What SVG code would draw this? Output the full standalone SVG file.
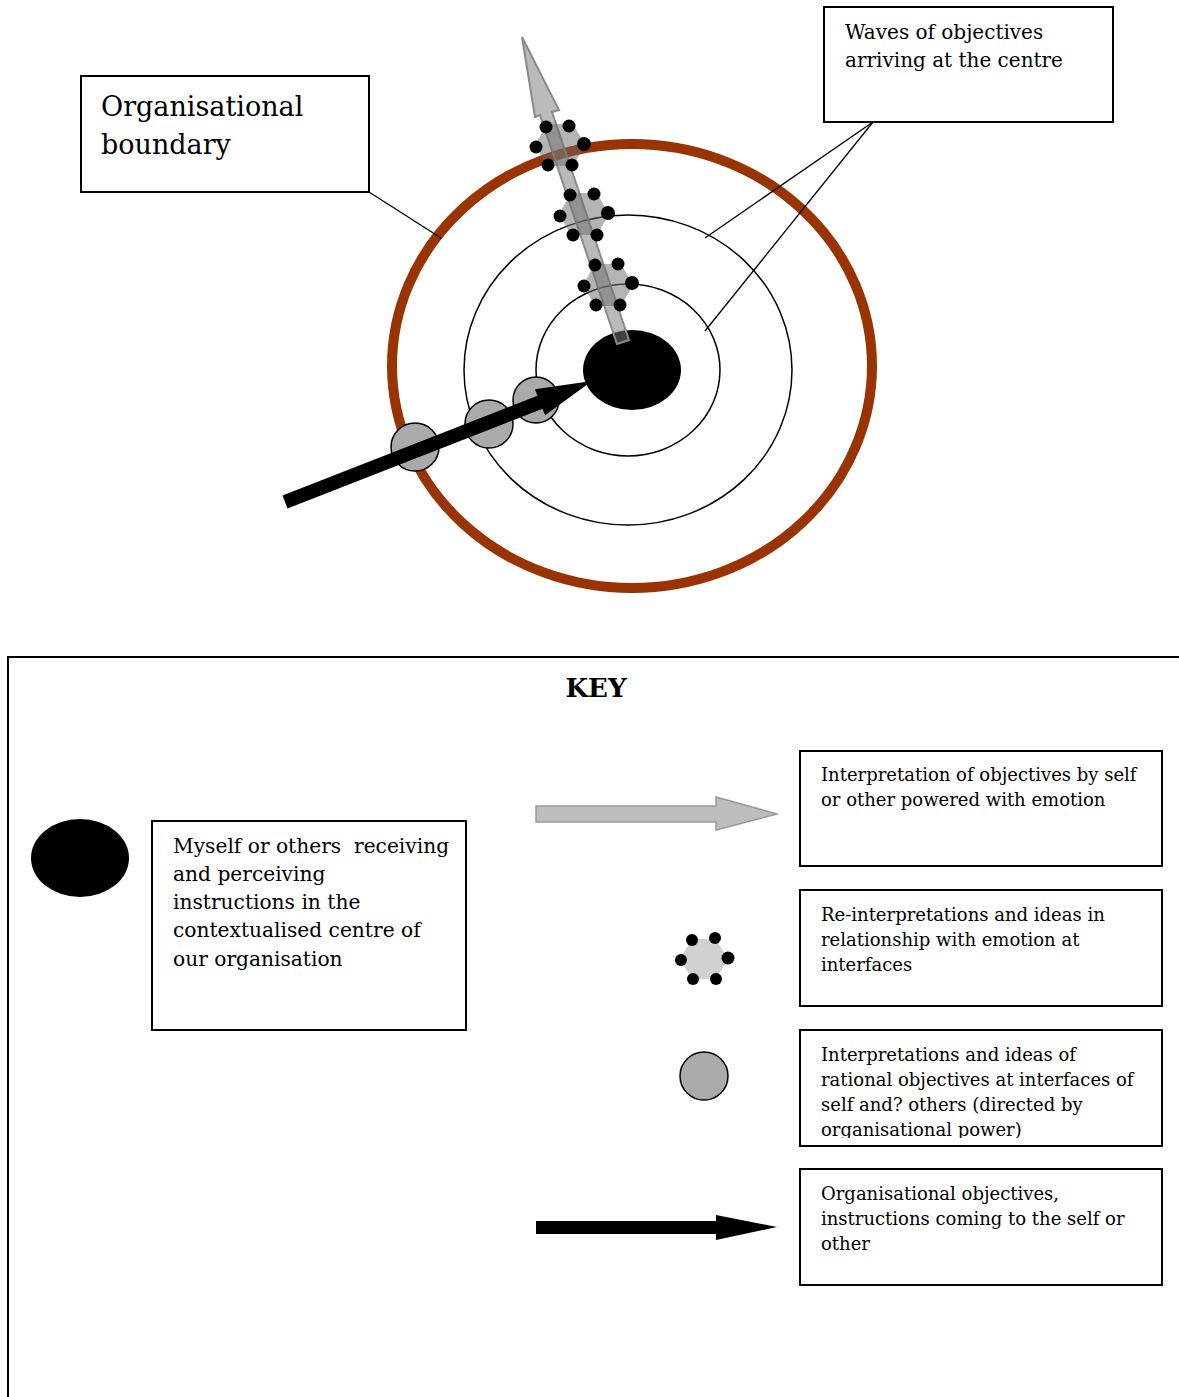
<svg xmlns="http://www.w3.org/2000/svg" width="1179" height="1397" viewBox="0 0 1179 1397">
<style>
.box{fill:#fff;stroke:#000;stroke-width:2}
.t{font-family:"DejaVu Serif","Liberation Serif",serif;fill:#000}
.lead{stroke:#000;stroke-width:1.3;fill:none}
.ring{fill:none;stroke:#000;stroke-width:1.5}
.gc{fill:#aaaaaa;stroke:#000;stroke-width:1.5}
.dot{fill:#000}
.hex{fill:#6a6a6a;opacity:0.5}
</style>
<defs>
<clipPath id="c3"><rect x="801" y="1031" width="360" height="107"/></clipPath>
</defs>
<rect width="1179" height="1397" fill="#fff"/>

<g id="diagram">
<g id="boundary"><ellipse cx="632" cy="366" rx="240" ry="222" fill="none" stroke="#993300" stroke-width="10"/></g>
<g id="ring2"><ellipse class="ring" cx="628" cy="370" rx="164" ry="155"/></g>
<g id="ring1"><ellipse class="ring" cx="628" cy="370" rx="92" ry="86"/></g>
<g id="centre"><ellipse cx="632" cy="370" rx="49" ry="40" fill="#000"/></g>
</g>

<g id="connectors">
<line class="lead" x1="369" y1="192" x2="441" y2="238"/>
<line class="lead" x1="873" y1="122" x2="705" y2="238"/>
<line class="lead" x1="873" y1="122" x2="705" y2="331"/>
</g>

<g id="rational-circles">
<circle class="gc" cx="415" cy="447" r="24"/>
<circle class="gc" cx="489" cy="424" r="24"/>
<circle class="gc" cx="536" cy="400" r="23"/>
</g>

<g id="black-arrow">
<polygon fill="#000" points="282.5,495.5 537.5,395.8 534.9,389.3 592,381 545.1,415.3 542.5,408.8 287.5,508.5"/>
</g>

<g id="grey-arrow">
<polygon fill="#7b7b7b" fill-opacity="0.52" stroke="#8a8a8a" stroke-width="2" points="522,37 559,110 552,112 629,340 617,344 540,115 535,117"/>
</g>

<g id="hex-clusters">
<g id="hex1">
<polygon class="hex" points="585,145 573,166 547,166 535,145 547,124 573,124"/>
<circle class="dot" cx="546" cy="127" r="6.5"/><circle class="dot" cx="569" cy="126" r="6.5"/>
<circle class="dot" cx="536" cy="147" r="6.5"/><circle class="dot" cx="584" cy="144" r="7"/>
<circle class="dot" cx="548" cy="165" r="6.5"/><circle class="dot" cx="572" cy="165" r="6.5"/>
</g>
<g id="hex2">
<polygon class="hex" points="609,214 597,235 571,235 559,214 571,193 597,193"/>
<circle class="dot" cx="570" cy="195" r="6.5"/><circle class="dot" cx="594" cy="194" r="6.5"/>
<circle class="dot" cx="560" cy="216" r="6.5"/><circle class="dot" cx="608" cy="213" r="7"/>
<circle class="dot" cx="573" cy="235" r="6.5"/><circle class="dot" cx="597" cy="235" r="6.5"/>
</g>
<g id="hex3">
<polygon class="hex" points="633,285 621,306 595,306 583,285 595,264 621,264"/>
<circle class="dot" cx="595" cy="265" r="6.5"/><circle class="dot" cx="618" cy="264" r="6.5"/>
<circle class="dot" cx="584" cy="286" r="6.5"/><circle class="dot" cx="632" cy="283" r="7"/>
<circle class="dot" cx="596" cy="305" r="6.5"/><circle class="dot" cx="620" cy="305" r="6.5"/>
</g>
</g>

<g id="org-boundary-label">
<rect class="box" x="81" y="76" width="288" height="116"/>
<text class="t" font-size="27" x="101" y="116">Organisational</text>
<text class="t" font-size="27" x="101" y="154">boundary</text>
</g>

<g id="waves-label">
<rect class="box" x="824" y="7" width="289" height="115"/>
<text class="t" font-size="20" x="845" y="39">Waves of objectives</text>
<text class="t" font-size="20" x="845" y="67">arriving at the centre</text>
</g>

<g id="key">
<rect x="8" y="657" width="1190" height="760" fill="none" stroke="#000" stroke-width="2"/>
<text class="t" font-size="26" font-weight="bold" x="596" y="697" text-anchor="middle">KEY</text>

<g id="key-centre">
<ellipse cx="80" cy="858" rx="49" ry="39" fill="#000"/>
<rect class="box" x="152" y="821" width="314" height="209"/>
<text class="t" font-size="20.2" style="white-space:pre"><tspan x="173" y="853">Myself or others  receiving</tspan><tspan x="173" y="881">and perceiving</tspan><tspan x="173" y="909">instructions in the</tspan><tspan x="173" y="937">contextualised centre of</tspan><tspan x="173" y="966">our organisation</tspan></text>
</g>

<g id="key-grey-arrow">
<polygon fill="#bdbdbd" stroke="#999" stroke-width="1.5" points="536,806 716,806 716,797 777,814 716,830 716,822 536,822"/>
<rect class="box" x="800" y="751" width="362" height="115"/>
<text class="t" font-size="18"><tspan x="821" y="781">Interpretation of objectives by self</tspan><tspan x="821" y="806">or other powered with emotion</tspan></text>
</g>

<g id="key-hex">
<polygon fill="#d0d0d0" points="728,959 716,979 692,979 680,959 692,939 716,939"/>
<circle class="dot" cx="692" cy="940" r="6"/><circle class="dot" cx="715" cy="938" r="6"/>
<circle class="dot" cx="681" cy="960" r="6"/><circle class="dot" cx="728" cy="958" r="6.5"/>
<circle class="dot" cx="693" cy="979" r="6"/><circle class="dot" cx="716" cy="979" r="6"/>
<rect class="box" x="800" y="890" width="362" height="116"/>
<text class="t" font-size="18"><tspan x="821" y="921">Re-interpretations and ideas in</tspan><tspan x="821" y="946">relationship with emotion at</tspan><tspan x="821" y="971">interfaces</tspan></text>
</g>

<g id="key-circle">
<circle class="gc" cx="704" cy="1076" r="24"/>
<rect class="box" x="800" y="1030" width="362" height="116"/>
<text class="t" font-size="18" clip-path="url(#c3)"><tspan x="821" y="1061">Interpretations and ideas of</tspan><tspan x="821" y="1086">rational objectives at interfaces of</tspan><tspan x="821" y="1111">self and? others (directed by</tspan><tspan x="821" y="1136">organisational power)</tspan></text>
</g>

<g id="key-black-arrow">
<polygon fill="#000" points="536,1221 716,1221 716,1215 777,1227 716,1240 716,1234 536,1234"/>
<rect class="box" x="800" y="1169" width="362" height="116"/>
<text class="t" font-size="18"><tspan x="821" y="1200">Organisational objectives,</tspan><tspan x="821" y="1225">instructions coming to the self or</tspan><tspan x="821" y="1250">other</tspan></text>
</g>
</g>
</svg>
